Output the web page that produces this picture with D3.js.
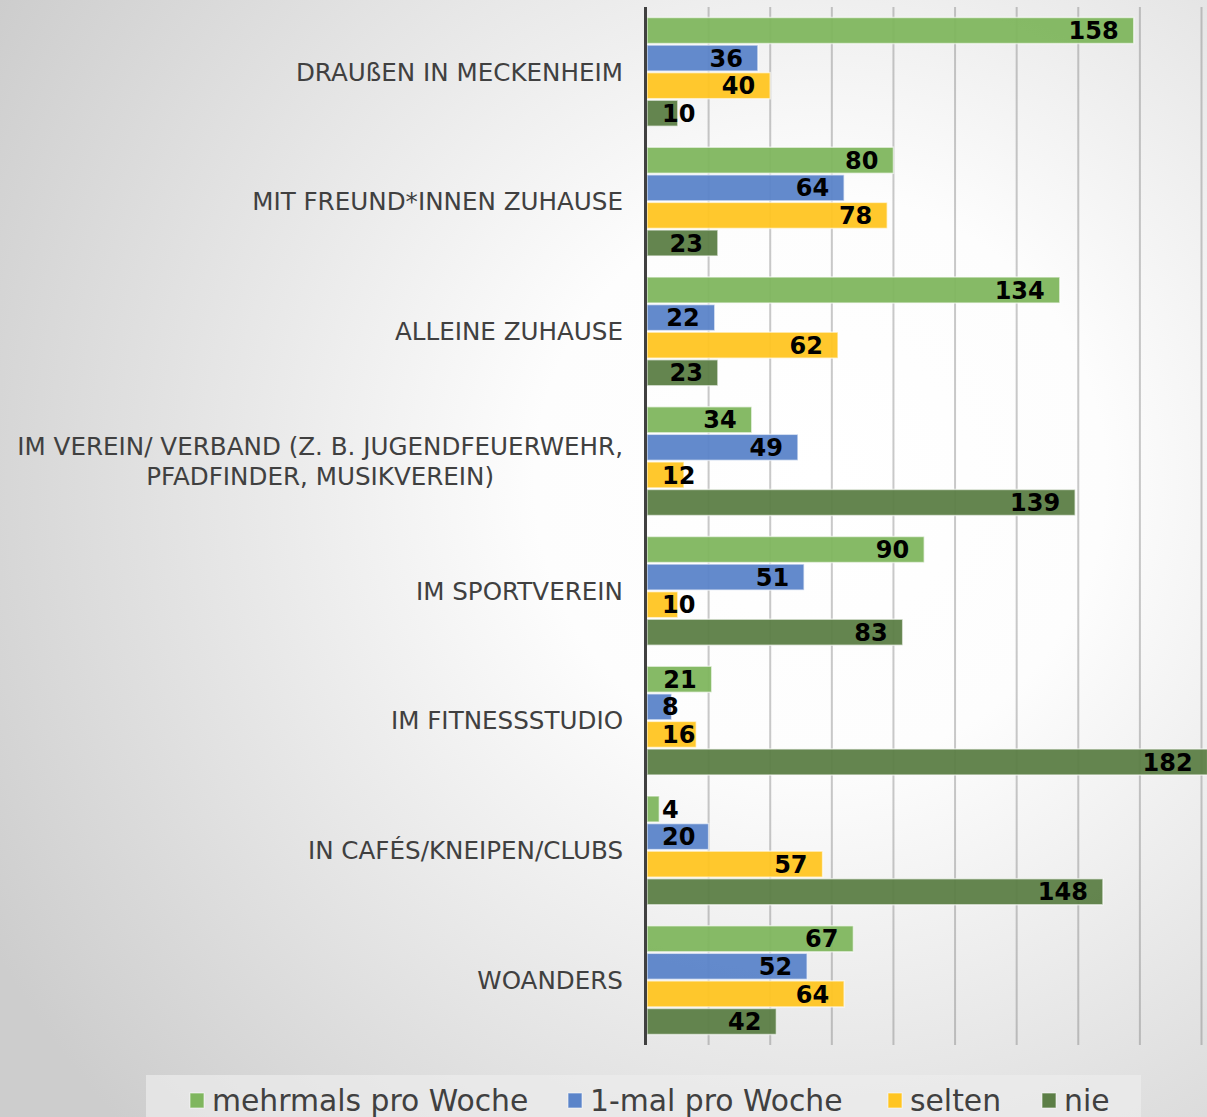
<!DOCTYPE html>
<html>
<head>
<meta charset="utf-8">
<script src="https://cdn.jsdelivr.net/npm/d3@7"></script>
<style>
  html, body { margin: 0; padding: 0; overflow: hidden; }
  svg { display: block; font-family: "DejaVu Sans", Verdana, sans-serif; }
</style>
</head>
<body>
<div id="vis"></div>
<script>
/*************************** data ************************************/
var categories = [
    "DRAUßEN IN MECKENHEIM",
    "MIT FREUND*INNEN ZUHAUSE",
    "ALLEINE ZUHAUSE",
    "IM VEREIN/ VERBAND (Z. B. JUGENDFEUERWEHR,|PFADFINDER, MUSIKVEREIN)",
    "IM SPORTVEREIN",
    "IM FITNESSSTUDIO",
    "IN CAFÉS/KNEIPEN/CLUBS",
    "WOANDERS"
];
var series = ["mehrmals pro Woche", "1-mal pro Woche", "selten", "nie"];
var mehrmals = [158, 80, 134, 34, 90, 21, 4, 67];
var einmal   = [36, 64, 22, 49, 51, 8, 20, 52];
var selten   = [40, 78, 62, 12, 10, 16, 57, 64];
var nie      = [10, 23, 23, 139, 83, 182, 148, 42];
var values = [mehrmals, einmal, selten, nie];
var x_ticks = [20, 40, 60, 80, 100, 120, 140, 160, 180];

var W = 1207, H = 1117;
var color = d3.scaleOrdinal()
    .domain(series)
    .range(["#7fb65e", "#5b84c9", "#ffc522", "#5c7e46"]);

var svg = d3.select("div#vis").append("svg")
    .attr("width", W)
    .attr("height", H);

// background
var defs = svg.append("defs");
var grad = defs.append("radialGradient")
    .attr("id", "bg")
    .attr("gradientUnits", "userSpaceOnUse")
    .attr("cx", 820).attr("cy", 480).attr("r", 950);
grad.append("stop").attr("offset", "0%").attr("stop-color", "#ffffff");
grad.append("stop").attr("offset", "30%").attr("stop-color", "#fdfdfd");
grad.append("stop").attr("offset", "100%").attr("stop-color", "#cdcdcd");
svg.append("rect").attr("width", W).attr("height", H).attr("fill", "url(#bg)");

/*************************** scales ************************************/
var x = d3.scaleLinear().domain([0, 180]).range([647, 1201.5]);
var y0 = d3.scaleBand()
    .domain(categories)
    .range([7, 1045])
    .paddingInner(0.15)
    .paddingOuter(0.075);
var y1 = d3.scaleBand()
    .domain(series)
    .range([0, y0.bandwidth()]);

// gridlines
svg.append("g").selectAll("line")
    .data(x_ticks)
  .enter().append("line")
    .attr("x1", function(d) { return x(d); })
    .attr("x2", function(d) { return x(d); })
    .attr("y1", 7)
    .attr("y2", 1045)
    .attr("stroke", "#777")
    .attr("stroke-opacity", 0.4)
    .attr("stroke-width", 2);

/*************************** bars ************************************/
var groups = svg.append("g").selectAll("g.grp")
    .data(categories)
  .enter().append("g")
    .attr("class", "grp")
    .attr("transform", function(d) { return "translate(0," + y0(d) + ")"; });

groups.each(function(cat, ci) {
    var g = d3.select(this);
    var rows = series.map(function(s, si) { return { s: s, v: values[si][ci] }; });

    g.selectAll("rect")
        .data(rows)
      .enter().append("rect")
        .attr("x", x(0))
        .attr("y", function(d) { return y1(d.s) + 0.75; })
        .attr("width", function(d) { return x(d.v) - x(0); })
        .attr("height", y1.bandwidth() - 1.5)
        .attr("fill", function(d) { return color(d.s); })
        .attr("fill-opacity", 0.95)
        .attr("stroke", "#ffffff")
        .attr("stroke-opacity", 0.6)
        .attr("stroke-width", 1.5);

    g.selectAll("text")
        .data(rows)
      .enter().append("text")
        .attr("y", function(d) { return y1(d.s) + y1.bandwidth() / 2; })
        .attr("dy", "0.36em")
        .attr("text-anchor", "end")
        .attr("font-size", 24)
        .attr("font-weight", "bold")
        .attr("fill", "#000")
        .text(function(d) { return d.v; })
        .attr("x", function(d) {
            var w = this.getComputedTextLength();
            return Math.max(x(d.v) - 15, x(0) + 15 + w);
        });
});

// axis line
svg.append("line")
    .attr("x1", 645.5).attr("x2", 645.5)
    .attr("y1", 7).attr("y2", 1045)
    .attr("stroke", "#404040")
    .attr("stroke-width", 3);

// category labels (multi-line ones are centred on their longest line)
var catLabels = svg.append("g").selectAll("text")
    .data(categories)
  .enter().append("text")
    .attr("text-anchor", "middle")
    .attr("font-size", 24.6)
    .attr("fill", "#404040");
catLabels.each(function(d) {
    var lines = d.split("|");
    var t = d3.select(this);
    var spans = lines.map(function(l, i) {
        return t.append("tspan")
            .attr("y", (i - (lines.length - 1) / 2) * 30)
            .attr("dy", "0.36em")
            .text(l);
    });
    var w = d3.max(spans, function(s) { return s.node().getComputedTextLength(); });
    spans.forEach(function(s) { s.attr("x", 0); });
    t.attr("transform", "translate(" + (623 - w / 2) + "," + (y0(d) + y0.bandwidth() / 2) + ")");
});

/*************************** color legend ************************************/
var legend = svg.append("g");
legend.append("rect")
    .attr("x", 146).attr("y", 1075)
    .attr("width", 995).attr("height", 50)
    .attr("fill", "#ececec")
    .attr("fill-opacity", 0.7);

var legend_x = [190, 568, 888, 1042];
var legend_elems = legend.selectAll("g.legend-elem")
    .data(series)
  .enter().append("g")
    .attr("class", "legend-elem")
    .attr("transform", function(d, i) { return "translate(" + legend_x[i] + ",0)"; });

legend_elems.append("rect")
    .attr("y", 1093)
    .attr("width", 14)
    .attr("height", 15)
    .attr("fill", function(d) { return color(d); })
    .attr("stroke", "#fff")
    .attr("stroke-opacity", 0.6);

legend_elems.append("text")
    .attr("x", 22)
    .attr("y", 1111)
    .attr("font-size", 29.8)
    .attr("fill", "#404040")
    .text(function(d) { return d; });
</script>
</body>
</html>
